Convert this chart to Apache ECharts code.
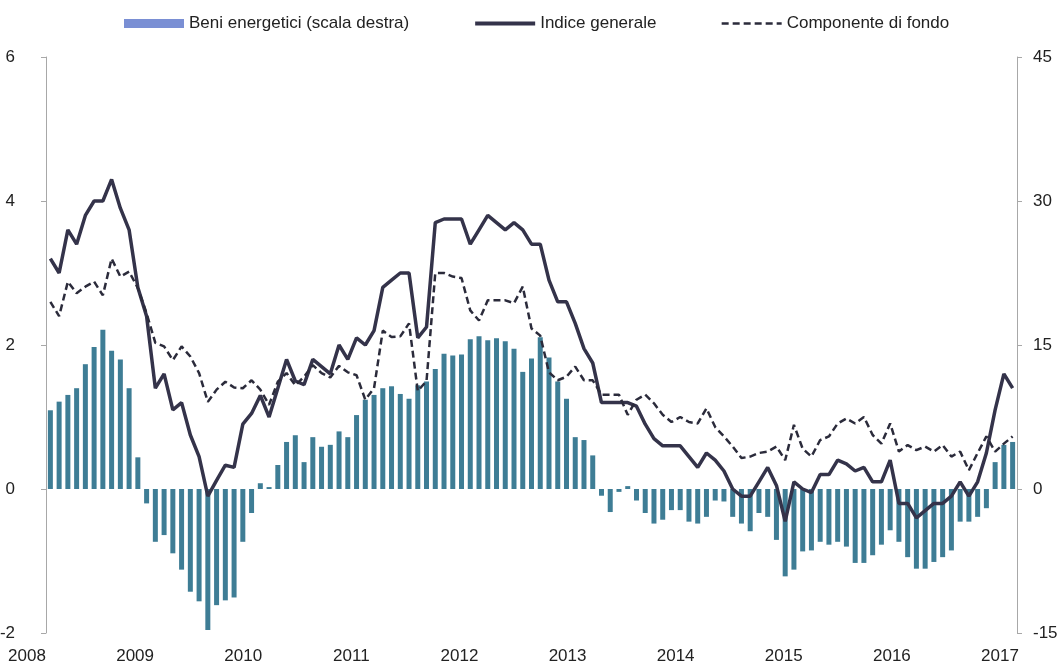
<!DOCTYPE html>
<html>
<head>
<meta charset="utf-8">
<script src="https://cdn.jsdelivr.net/npm/echarts@6/dist/echarts.min.js"></script>
<style>
  html, body { margin: 0; padding: 0; background: #fff; }
  #chart { width: 1061px; height: 671px; }
</style>
</head>
<body>
<div id="chart"></div>
<script>
// mesi da gen 2008 a mar 2017
var months = [];
for (var y = 2008; y <= 2017; y++) {
    for (var m = 1; m <= 12; m++) {
        if (y === 2017 && m > 3) break;
        months.push(y + '-' + (m < 10 ? '0' + m : m));
    }
}
var yearLabels = ['2008', '2009', '2010', '2011', '2012', '2013', '2014', '2015', '2016', '2017'];

// beni energetici, scala destra
var energia = [
    8.2, 9.1, 9.8, 10.5, 13.0, 14.8, 16.6, 14.4, 13.5, 10.5, 3.3, -1.5,
    -5.5, -4.8, -6.7, -8.4, -10.7, -11.7, -14.7, -12.1, -11.6, -11.3, -5.5, -2.5,
    0.6, 0.2, 2.5, 4.9, 5.6, 2.8, 5.4, 4.4, 4.6, 6.0, 5.4, 7.7,
    9.3, 9.8, 10.5, 10.7, 9.9, 9.4, 10.8, 11.2, 12.5, 14.1, 13.9, 14.0,
    15.6, 15.9, 15.5, 15.7, 15.4, 14.6, 12.2, 13.6, 15.8, 13.7, 11.2, 9.4,
    5.4, 5.1, 3.5, -0.7, -2.4, -0.3, 0.3, -1.2, -2.5, -3.6, -3.2, -2.2,
    -2.2, -3.4, -3.6, -2.9, -1.2, -1.3, -2.9, -3.6, -4.4, -2.5, -2.9, -5.3,
    -9.1, -8.4, -6.5, -6.4, -5.5, -5.8, -5.5, -6.0, -7.7, -7.7, -6.9, -5.8,
    -4.3, -5.5, -7.1, -8.3, -8.3, -7.6, -7.1, -6.4, -3.4, -3.4, -2.9, -2.0,
    2.8, 4.6, 4.9
];
// indice generale
var generale = [
    3.2, 3.0, 3.6, 3.4, 3.8, 4.0, 4.0, 4.3, 3.9, 3.6, 2.8, 2.4,
    1.4, 1.6, 1.1, 1.2, 0.75, 0.45, -0.1, 0.12, 0.33, 0.3, 0.9, 1.05,
    1.3, 1.0, 1.4, 1.8, 1.5, 1.45, 1.8, 1.7, 1.6, 2.0, 1.8, 2.1,
    2.0, 2.2, 2.8, 2.9, 3.0, 3.0, 2.1, 2.25, 3.7, 3.75, 3.75, 3.75,
    3.4, 3.6, 3.8, 3.7, 3.6, 3.7, 3.6, 3.4, 3.4, 2.9, 2.6, 2.6,
    2.3, 1.95, 1.75, 1.2, 1.2, 1.2, 1.2, 1.15, 0.9, 0.7, 0.6, 0.6,
    0.6, 0.45, 0.3, 0.5, 0.4, 0.25, 0.0, -0.1, -0.1, 0.1, 0.3, 0.05,
    -0.45, 0.1, 0.0, -0.05, 0.2, 0.2, 0.4, 0.35, 0.25, 0.3, 0.1, 0.1,
    0.4, -0.2, -0.2, -0.4, -0.3, -0.2, -0.2, -0.1, 0.1, -0.1, 0.1, 0.5,
    1.1, 1.6, 1.4
];
// componente di fondo
var fondo = [
    2.6, 2.4, 2.88, 2.72, 2.81, 2.88, 2.69, 3.2, 2.95, 3.02, 2.79, 2.44,
    2.03, 1.98, 1.79, 1.98, 1.84, 1.61, 1.21, 1.38, 1.49, 1.41, 1.4, 1.51,
    1.38, 1.17, 1.49, 1.61, 1.44, 1.56, 1.72, 1.61, 1.55, 1.71, 1.62, 1.58,
    1.24, 1.4, 2.2, 2.11, 2.12, 2.3, 1.36, 1.5, 3.0, 3.0, 2.95, 2.93,
    2.48, 2.34, 2.62, 2.62, 2.62, 2.58, 2.81, 2.23, 2.13, 1.62, 1.51, 1.56,
    1.7, 1.51, 1.51, 1.31, 1.31, 1.31, 1.03, 1.24, 1.31, 1.19, 1.03, 0.93,
    1.0, 0.93, 0.91, 1.12, 0.86, 0.73, 0.59, 0.43, 0.45, 0.5, 0.52, 0.59,
    0.4, 0.89, 0.56, 0.45, 0.68, 0.73, 0.91, 0.98, 0.91, 1.0, 0.75, 0.63,
    0.91, 0.52, 0.61, 0.54, 0.59, 0.52, 0.61, 0.45, 0.52, 0.26, 0.5, 0.73,
    0.52, 0.63, 0.73
];

var font = "'Liberation Sans', Arial, sans-serif";
var fs = 17;
var axisColor = '#a8a8a8';

var chart = echarts.init(document.getElementById('chart'));
chart.setOption({
    backgroundColor: '#fff',
    animation: false,
    textStyle: { fontFamily: font },
    legend: {
        top: 10,
        left: 119,
        itemWidth: 60,
        itemHeight: 9,
        itemGap: 64,
        textStyle: { fontFamily: font, fontSize: fs, color: '#222' },
        data: [
            { name: 'Beni energetici (scala destra)', icon: 'rect', itemStyle: { color: '#7a8fd4' } },
            // niente pallino sulle linee della legenda
            { name: 'Indice generale', itemStyle: { opacity: 0 }, lineStyle: { width: 4 } },
            { name: 'Componente di fondo', itemStyle: { opacity: 0 }, lineStyle: { width: 2.5 } }
        ]
    },
    grid: [
        { left: 46, right: 44, top: 57, bottom: 38, outerBoundsMode: 'none' },
        // solo per le etichette degli anni
        { left: 27, right: 61, top: 57, bottom: 38, outerBoundsMode: 'none' }
    ],
    xAxis: [
        {
            type: 'category',
            gridIndex: 0,
            data: months,
            boundaryGap: true,
            axisLine: { show: false },
            axisTick: { show: false },
            axisLabel: { show: false }
        },
        {
            type: 'category',
            gridIndex: 1,
            data: yearLabels,
            boundaryGap: false,
            axisLine: { show: false },
            axisTick: { show: false },
            axisLabel: { fontFamily: font, fontSize: fs, color: '#222', margin: 15, interval: 0 }
        }
    ],
    yAxis: [
        {
            type: 'value',
            gridIndex: 0,
            min: -2, max: 6, interval: 2,
            axisLine: { show: true, lineStyle: { color: axisColor } },
            axisTick: { show: true, length: 5, lineStyle: { color: axisColor } },
            splitLine: { show: false },
            axisLabel: { fontFamily: font, fontSize: fs, color: '#222', margin: 31 }
        },
        {
            type: 'value',
            gridIndex: 0,
            position: 'right',
            min: -15, max: 45, interval: 15,
            axisLine: { show: true, lineStyle: { color: axisColor } },
            axisTick: { show: true, length: 5, lineStyle: { color: axisColor } },
            splitLine: { show: false },
            axisLabel: { fontFamily: font, fontSize: fs, color: '#222', margin: 16 }
        },
        {
            type: 'value',
            gridIndex: 1,
            show: false
        }
    ],
    series: [
        {
            name: 'Beni energetici (scala destra)',
            type: 'bar',
            xAxisIndex: 0,
            yAxisIndex: 1,
            data: energia,
            barWidth: 5,
            itemStyle: { color: '#3e7d95' }
        },
        {
            name: 'Indice generale',
            type: 'line',
            xAxisIndex: 0,
            yAxisIndex: 0,
            data: generale,
            symbol: 'circle',
            showSymbol: false,
            lineStyle: { color: '#34334a', width: 3.5 },
            itemStyle: { color: '#34334a' }
        },
        {
            name: 'Componente di fondo',
            type: 'line',
            xAxisIndex: 0,
            yAxisIndex: 0,
            data: fondo,
            symbol: 'circle',
            showSymbol: false,
            lineStyle: { color: '#2b2b3b', width: 2.5, type: [7, 4] },
            itemStyle: { color: '#2b2b3b' }
        }
    ]
});
</script>
</body>
</html>
